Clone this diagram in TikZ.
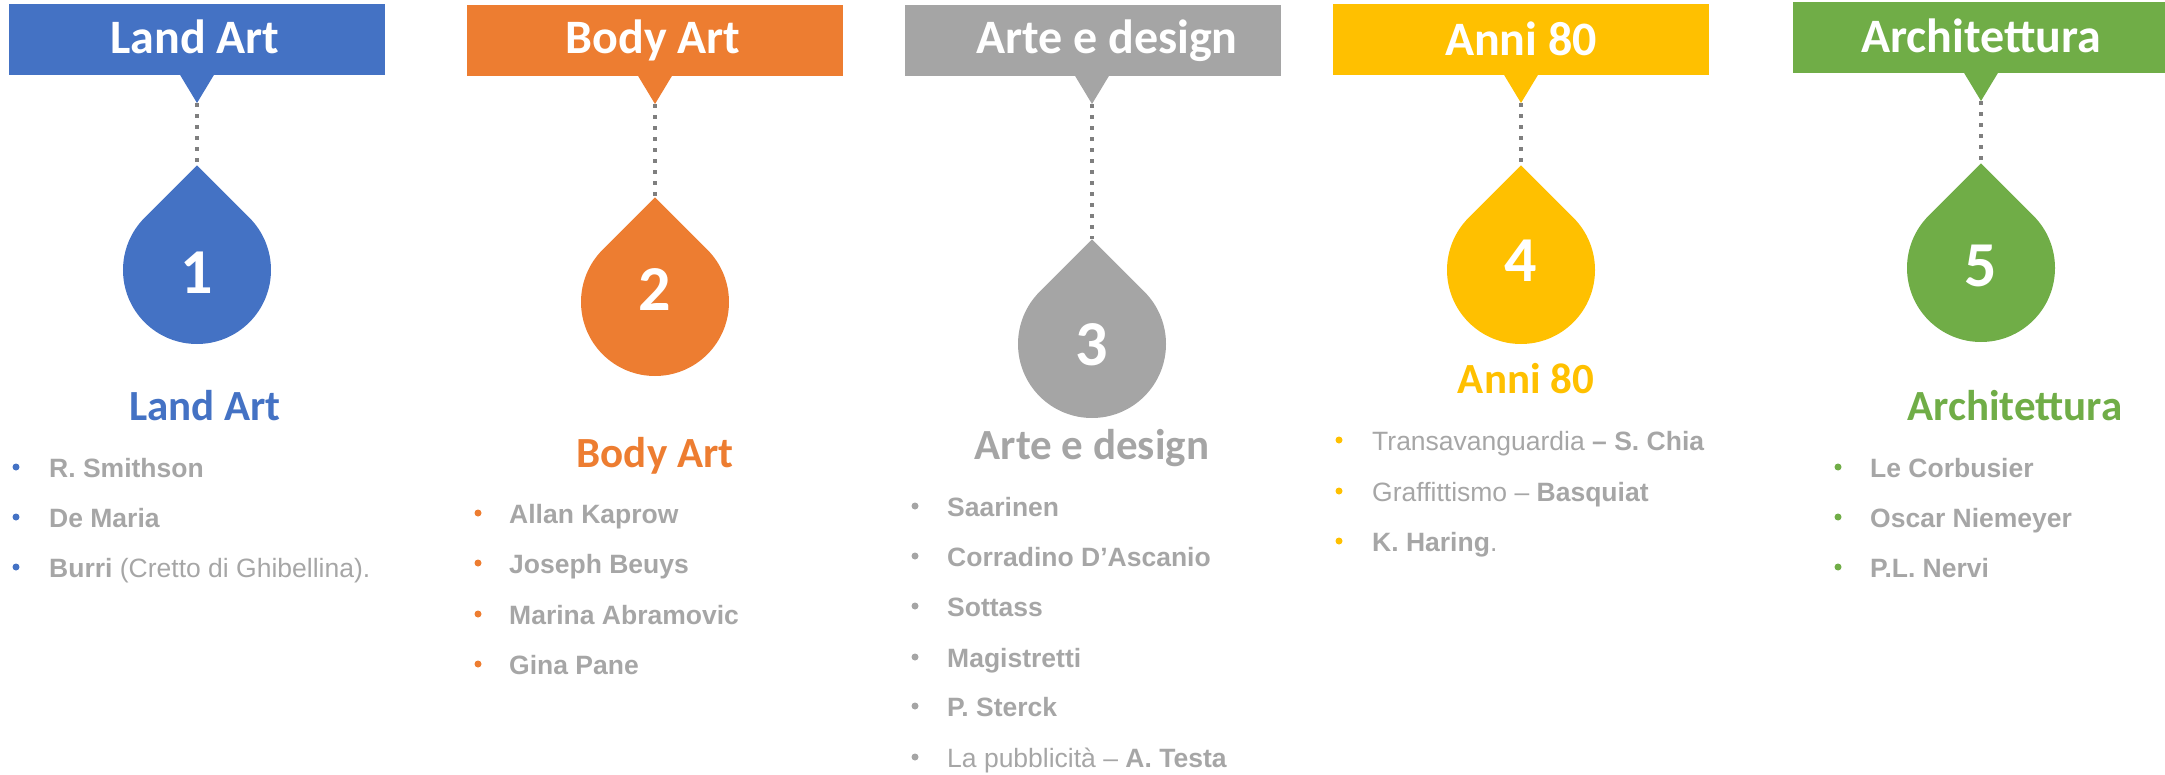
\documentclass[tikz,border=0pt]{standalone}
\usepackage{fontspec}
\setmainfont{Liberation Sans}
\newfontfamily\calib{Carlito}
\definecolor{cblue}{HTML}{4472C4}
\definecolor{corange}{HTML}{ED7D31}
\definecolor{cgray}{HTML}{A5A5A5}
\definecolor{cyellow}{HTML}{FFC000}
\definecolor{cgreen}{HTML}{70AD47}
\definecolor{ctext}{HTML}{A6A6A6}
\definecolor{cdot}{HTML}{7F7F7F}
\tikzset{
 hdrtext/.style={anchor=base, text=white, font=\calib\bfseries\fontsize{48}{58}\selectfont, inner sep=0pt},
 numtext/.style={anchor=base, text=white, font=\calib\bfseries\fontsize{64}{76}\selectfont, inner sep=0pt},
 subtitle/.style={anchor=base, font=\calib\bfseries\fontsize{43}{52}\selectfont, inner sep=0pt},
 item/.style={anchor=base west, text=ctext, font=\fontsize{26.5}{32}\selectfont, inner sep=0pt},
 connector/.style={draw=cdot, line width=4pt, dash pattern=on 4pt off 7pt},
}
\newcommand\dropshape[4]{% colour, name, cx, cy
 \fill[#1] ({#3},{#4-104.65}) coordinate (#2) -- ({#3-52.33},{#4-52.33}) arc[start angle=225, end angle=-45, radius=74] -- cycle;}
\newcommand\hdrbox[7]{% colour, x1, x2, y1, y2, cx, tipname
 \fill[#1] (#2,#4) rectangle (#3,#5);
 \fill[#1] ({#6-17.5},{#5-1}) -- ({#6+17.5},{#5-1}) -- (#6,{#5+28}) coordinate (#7) -- cycle;}
\begin{document}
\begin{tikzpicture}[x=1pt,y=-1pt]
\useasboundingbox (0,0) rectangle (2165,774);
% ---------- column 1 ----------
\hdrbox{cblue}{9}{385}{4}{75}{197}{t1}
\node[hdrtext] (h1) at (195,53) {Land Art};
\dropshape{cblue}{d1}{197}{270}
\draw[connector] (t1) -- (d1);
\node[numtext] (n1) at (197,293) {1};
\node[subtitle, text=cblue] (s1) at (205,420) {Land Art};
\foreach \y in {467,517,567} \fill[cblue] (16,\y) circle[radius=3.5];
\node[item] (i11) at (49,477) {\textbf{R. Smithson}};
\node[item] (i12) at (49,527) {\textbf{De Maria}};
\node[item] (i13) at (49,577) {\textbf{Burri} (Cretto di Ghibellina).};
% ---------- column 2 ----------
\hdrbox{corange}{467}{843}{5}{76}{655}{t2}
\node[hdrtext] (h2) at (653,53) {Body Art};
\dropshape{corange}{d2}{655}{302}
\draw[connector] (t2) -- (d2);
\node[numtext] (n2) at (655,310) {2};
\node[subtitle, text=corange] (s2) at (655,467) {Body Art};
\foreach \y in {513,563,614,664} \fill[corange] (478,\y) circle[radius=3.5];
\node[item] (i21) at (509,523) {\textbf{Allan Kaprow}};
\node[item] (i22) at (509,573) {\textbf{Joseph Beuys}};
\node[item] (i23) at (509,624) {\textbf{Marina Abramovic}};
\node[item] (i24) at (509,674) {\textbf{Gina Pane}};
% ---------- column 3 ----------
\hdrbox{cgray}{905}{1281}{5}{76}{1092}{t3}
\node[hdrtext] (h3) at (1107,53) {Arte e design};
\dropshape{cgray}{d3}{1092}{344}
\draw[connector] (t3) -- (d3);
\node[numtext] (n3) at (1092,365) {3};
\node[subtitle, text=cgray] (s3) at (1092,459) {Arte e design};
\foreach \y in {506,556,606,657,706,757} \fill[cgray] (915,\y) circle[radius=3.5];
\node[item] (i31) at (947,516) {\textbf{Saarinen}};
\node[item] (i32) at (947,566) {\textbf{Corradino D’Ascanio}};
\node[item] (i33) at (947,616) {\textbf{Sottass}};
\node[item] (i34) at (947,667) {\textbf{Magistretti}};
\node[item] (i35) at (947,716) {\textbf{P. Sterck}};
\node[item] (i36) at (947,767) {La pubblicità – \textbf{A. Testa}};
% ---------- column 4 ----------
\hdrbox{cyellow}{1333}{1709}{4}{75}{1521}{t4}
\node[hdrtext] (h4) at (1521,55) {Anni 80};
\dropshape{cyellow}{d4}{1521}{270}
\draw[connector] (t4) -- (d4);
\node[numtext] (n4) at (1521,281) {4};
\node[subtitle, text=cyellow] (s4) at (1526,393) {Anni 80};
\foreach \y in {440,491,541} \fill[cyellow] (1339,\y) circle[radius=3.5];
\node[item] (i41) at (1372,450) {Transavanguardia \textbf{– S. Chia}};
\node[item] (i42) at (1372,501) {Graffittismo – \textbf{Basquiat}};
\node[item] (i43) at (1372,551) {\textbf{K. Haring}.};
% ---------- column 5 ----------
\hdrbox{cgreen}{1793}{2165}{2}{73}{1981}{t5}
\node[hdrtext] (h5) at (1981,52) {Architettura};
\dropshape{cgreen}{d5}{1981}{268}
\draw[connector] (t5) -- (d5);
\node[numtext] (n5) at (1981,286) {5};
\node[subtitle, text=cgreen] (s5) at (2015,420) {Architettura};
\foreach \y in {467,517,567} \fill[cgreen] (1838,\y) circle[radius=3.5];
\node[item] (i51) at (1870,477) {\textbf{Le Corbusier}};
\node[item] (i52) at (1870,527) {\textbf{Oscar Niemeyer}};
\node[item] (i53) at (1870,577) {\textbf{P.L. Nervi}};
\end{tikzpicture}
\end{document}
